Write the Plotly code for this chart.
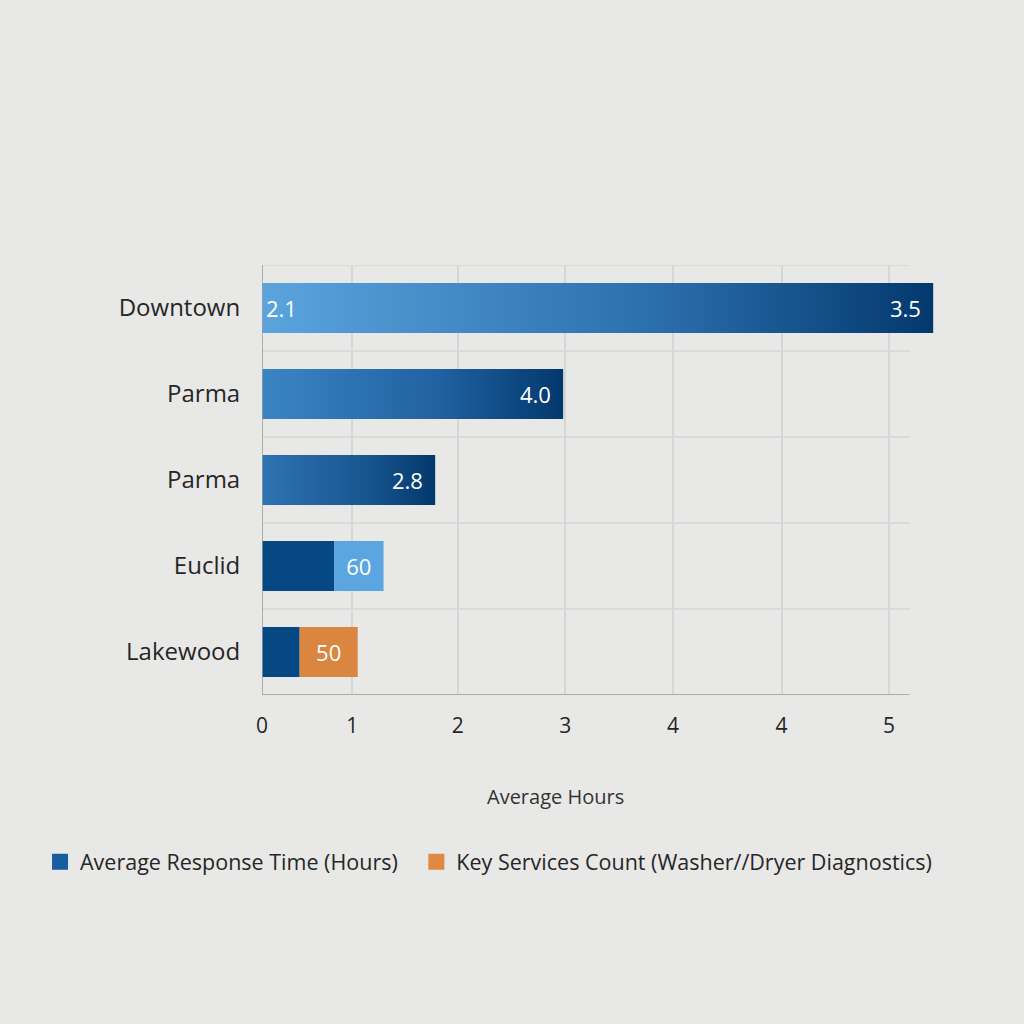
import plotly.graph_objects as go

# categorias (de cima para baixo)
regioes = ['Downtown', 'Parma', 'Parma', 'Euclid', 'Lakewood']
posicoes = [0, 1, 2, 3, 4]

# barras com degradê (comprimento lido no eixo)
grad_idx = [0, 1, 2]
grad_valores = [6.24, 2.80, 1.61]
grad_cor_ini = ['#5ba4de', '#3b85c5', '#2f73b3']
grad_cor_meio = ['#2a6dab', '#1f60a0', '#17568f']
grad_cor_fim = ['#03386d', '#03386d', '#03386d']

# rótulos das barras com degradê
rot_esq_idx = [0]
rot_esq_txt = ['2.1']
rot_dir_txt = ['3.5', '4.0', '2.8']

# barras empilhadas (Euclid, Lakewood)
emp_idx = [3, 4]
emp_base = [0.67, 0.35]
emp_extra = [0.46, 0.54]
emp_cor_extra = ['#5ba5e1', '#db8640']
emp_txt = ['60', '50']

# eixo x
x_ticks = [0, 0.84, 1.82, 2.82, 3.82, 4.83, 5.83]
x_rotulos = ['0', '1', '2', '3', '4', '4', '5']
x_fim_eixo = 6.02
x_max = 6.35

meia_altura = 0.29
fonte = 'Open Sans'
cinza_txt = '#262626'
fundo = '#e8e8e7'

fig = go.Figure()

# barras com degradê horizontal
for k, i in enumerate(grad_idx):
    v = grad_valores[k]
    fig.add_trace(go.Scatter(
        x=[0, v, v, 0, 0],
        y=[i - meia_altura, i - meia_altura, i + meia_altura, i + meia_altura, i - meia_altura],
        mode='lines',
        fill='toself',
        line=dict(width=0, color='rgba(0,0,0,0)'),
        fillgradient=dict(
            type='horizontal',
            colorscale=[[0, grad_cor_ini[k]], [0.6, grad_cor_meio[k]], [1, grad_cor_fim[k]]]
        ),
        showlegend=False,
        hoverinfo='skip'
    ))

# segmentos sólidos
fig.add_trace(go.Bar(
    x=emp_base,
    y=[posicoes[i] for i in emp_idx],
    orientation='h',
    width=2 * meia_altura,
    marker=dict(color='#054884', line=dict(width=0)),
    showlegend=False,
    hoverinfo='skip'
))
fig.add_trace(go.Bar(
    x=emp_extra,
    y=[posicoes[i] for i in emp_idx],
    base=emp_base,
    orientation='h',
    width=2 * meia_altura,
    marker=dict(color=emp_cor_extra, line=dict(width=0)),
    text=emp_txt,
    textposition='inside',
    insidetextanchor='middle',
    textfont=dict(family=fonte, size=22, color='white'),
    showlegend=False,
    hoverinfo='skip'
))

# legenda (marcadores quadrados, uma legenda por item)
fig.add_trace(go.Scatter(x=[None], y=[None], mode='markers', name='Average Response Time (Hours)',
                         marker=dict(symbol='square', size=20, color='#1a5d9f'),
                         legend='legend'))
fig.add_trace(go.Scatter(x=[None], y=[None], mode='markers',
                         name='Key Services Count (Washer//Dryer Diagnostics)',
                         marker=dict(symbol='square', size=20, color='#de8a45'),
                         legend='legend2'))

# rótulos de valor
for k, i in enumerate(rot_esq_idx):
    fig.add_annotation(x=0, y=i, text=rot_esq_txt[k], showarrow=False,
                       xanchor='left', xshift=2,
                       font=dict(family=fonte, size=22, color='white'))
for k, i in enumerate(grad_idx):
    fig.add_annotation(x=grad_valores[k], y=i, text=rot_dir_txt[k], showarrow=False,
                       xanchor='right', xshift=-10,
                       font=dict(family=fonte, size=22, color='white'))

# grade horizontal e eixos (terminam antes do fim da barra Downtown)
for yl in [-0.5, 0.5, 1.5, 2.5, 3.5]:
    fig.add_shape(type='line', xref='x', yref='y', x0=0, x1=x_fim_eixo, y0=yl, y1=yl,
                  line=dict(color='#d6d6d6', width=1.5), layer='below')
fig.add_shape(type='line', xref='x', yref='y', x0=0, x1=x_fim_eixo, y0=4.5, y1=4.5,
              line=dict(color='#9a9a9a', width=1.5))
fig.add_shape(type='line', xref='x', yref='y', x0=0, x1=0, y0=-0.5, y1=4.5,
              line=dict(color='#9a9a9a', width=1.5))

fig.add_annotation(xref='paper', yref='paper', x=0.43, y=-0.272, text='Average Hours',
                   showarrow=False, font=dict(family=fonte, size=20, color='#333333'))

estilo_legenda = dict(
    orientation='h',
    y=-0.388, yanchor='middle', xanchor='left',
    font=dict(family=fonte, size=21.5, color=cinza_txt),
    bgcolor='rgba(0,0,0,0)',
    itemsizing='trace',
    itemwidth=30
)

fig.update_layout(
    width=1024, height=1024,
    margin=dict(l=262, r=79, t=265, b=329),
    paper_bgcolor=fundo,
    plot_bgcolor=fundo,
    barmode='overlay',
    font=dict(family=fonte, color=cinza_txt),
    showlegend=True,
    legend=dict(estilo_legenda, x=-0.325),
    legend2=dict(estilo_legenda, x=0.226),
    xaxis=dict(
        range=[0, x_max],
        tickvals=x_ticks,
        ticktext=x_rotulos,
        showgrid=True,
        gridcolor='#d6d6d6',
        gridwidth=1.5,
        zeroline=False,
        showline=False,
        ticks='outside',
        ticklen=12,
        tickcolor='rgba(0,0,0,0)',
        tickfont=dict(family=fonte, size=21, color=cinza_txt)
    ),
    yaxis=dict(
        range=[4.5, -0.5],
        tickvals=posicoes,
        ticktext=regioes,
        showgrid=False,
        zeroline=False,
        showline=False,
        ticks='outside',
        ticklen=16,
        tickcolor='rgba(0,0,0,0)',
        tickfont=dict(family=fonte, size=24, color=cinza_txt)
    )
)

# tira a margem branca da página e a barra de ferramentas
fig.write_html('out.html', config={'displayModeBar': False},
               post_script="document.body.style.margin='0';document.body.style.background='#e8e8e7';")
